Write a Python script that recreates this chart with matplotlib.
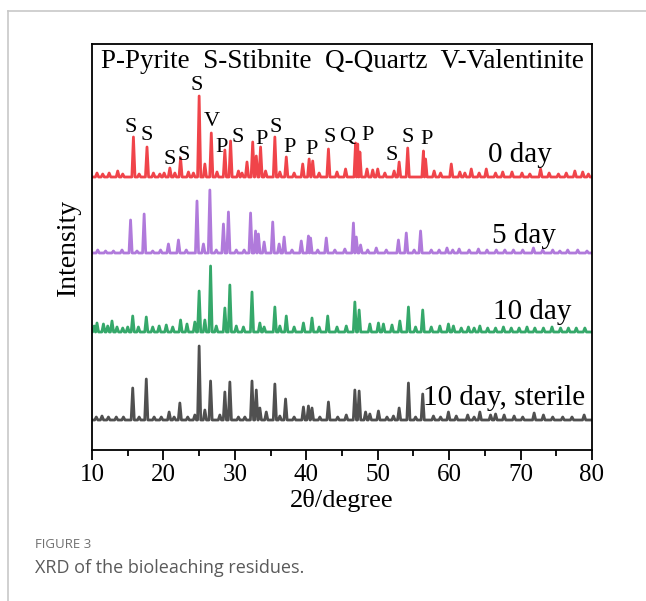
import numpy as np
import matplotlib
matplotlib.use("Agg")
from matplotlib import pyplot as plt

# XRD patterns: peak positions (2theta) and heights above each baseline
pos_0 = [10.7, 11.5, 12.4, 13.6, 14.3, 15.8, 16.6, 17.7, 18.6, 19.5, 20.1, 20.9, 21.6, 22.4, 23.5, 24.2,
         25.0, 25.8, 26.7, 27.5, 28.6, 29.4, 30.5, 31.0, 31.7, 32.5, 33.0, 33.6, 34.3, 35.6, 36.3, 37.2,
         38.3, 39.5, 40.4, 40.9, 41.8, 43.1, 44.3, 45.5, 46.9, 47.2, 47.5, 48.5, 49.3, 50.0, 51.0, 52.3,
         53.0, 54.2, 56.4, 56.7, 57.9, 58.8, 60.3, 61.5, 62.2, 63.1, 64.2, 65.2, 66.5, 67.5, 68.8, 70.2,
         71.3, 72.8, 74.0, 75.3, 76.4, 77.6, 78.7, 79.5]
h_0 = [4, 3, 4, 6, 3, 40, 3, 30, 4, 3, 4, 9, 4, 19, 5, 4,
       81, 13, 44, 5, 27, 36, 6, 4, 15, 35, 21, 30, 6, 40, 5, 20,
       4, 13, 18, 16, 4, 28, 5, 8, 34, 33, 25, 8, 7, 8, 4, 6,
       15, 29, 26, 18, 6, 4, 13, 5, 4, 8, 4, 8, 4, 5, 5, 4,
       3, 8, 4, 3, 4, 6, 5, 3]

pos_5 = [10.8, 11.9, 13.0, 14.2, 15.4, 16.3, 17.3, 18.5, 19.6, 20.7, 22.1, 23.2, 24.7, 25.6, 26.5, 27.4,
         28.4, 29.1, 30.2, 31.3, 32.2, 32.9, 33.3, 34.1, 35.3, 36.2, 36.9, 38.0, 39.3, 40.3, 40.6, 41.6,
         42.8, 44.0, 45.4, 46.6, 47.0, 47.6, 48.6, 49.8, 51.2, 52.9, 54.0, 55.1, 56.0, 57.5, 58.6, 59.7,
         60.5, 61.4, 62.8, 64.1, 65.3, 66.6, 67.8, 69.0, 70.3, 71.8, 73.1, 74.5, 75.5, 76.6, 78.0, 79.3]
h_5 = [3, 2, 2, 3, 33, 2, 39, 2, 3, 9, 13, 3, 52, 9, 63, 3,
       29, 41, 3, 3, 40, 22, 19, 11, 31, 9, 16, 3, 12, 17, 15, 3,
       15, 3, 4, 30, 16, 8, 3, 5, 3, 13, 20, 3, 22, 3, 3, 5,
       3, 4, 3, 4, 3, 3, 3, 3, 3, 5, 3, 3, 2, 3, 3, 2]

pos_10 = [10.3, 10.7, 11.6, 12.2, 12.8, 13.5, 14.3, 15.0, 15.7, 16.5, 17.6, 18.5, 19.4, 20.4, 21.3, 22.4,
          23.3, 24.4, 25.0, 25.8, 26.6, 27.4, 28.6, 29.3, 30.2, 31.2, 32.4, 33.5, 34.1, 35.6, 36.3, 37.2,
          38.3, 39.6, 40.8, 41.8, 43.0, 44.3, 45.6, 46.8, 47.4, 48.9, 50.1, 50.8, 52.0, 53.1, 54.3, 55.3,
          56.3, 57.5, 58.7, 59.9, 60.6, 61.7, 62.7, 63.5, 64.3, 65.4, 66.5, 67.6, 68.7, 69.8, 70.9, 72.0,
          73.2, 74.4, 75.6, 76.7, 77.8, 79.0]
h_10 = [6, 9, 8, 6, 11, 5, 4, 5, 16, 5, 15, 5, 6, 7, 5, 12,
        8, 10, 41, 12, 66, 6, 24, 47, 6, 5, 40, 9, 5, 25, 6, 16,
        5, 9, 14, 5, 16, 5, 6, 30, 22, 8, 9, 8, 7, 11, 25, 5,
        22, 5, 6, 8, 6, 4, 5, 4, 6, 4, 4, 5, 4, 4, 5, 4,
        4, 5, 4, 4, 4, 4]

pos_st = [10.6, 11.4, 12.3, 13.4, 14.4, 15.7, 16.6, 17.6, 18.7, 19.7, 20.8, 21.5, 22.3, 23.4, 24.4, 25.0,
          25.8, 26.6, 27.9, 28.6, 29.3, 30.5, 31.4, 32.4, 33.0, 33.5, 34.4, 35.6, 36.3, 37.1, 38.3, 39.6,
          40.3, 40.8, 41.9, 43.1, 44.4, 45.6, 46.8, 47.4, 48.3, 48.9, 50.1, 51.3, 52.2, 53.0, 54.3, 55.3,
          56.3, 57.8, 58.8, 59.9, 61.0, 62.6, 63.5, 64.3, 65.8, 66.5, 67.7, 69.1, 70.3, 71.9, 73.2, 74.5,
          75.9, 77.2, 78.9]
h_st = [3, 4, 3, 3, 3, 32, 3, 41, 3, 3, 8, 3, 17, 3, 5, 74,
        10, 39, 5, 28, 38, 3, 3, 39, 30, 12, 8, 36, 4, 21, 3, 13,
        14, 12, 3, 18, 3, 5, 30, 29, 8, 6, 9, 3, 4, 12, 37, 3,
        26, 4, 3, 8, 4, 5, 3, 8, 5, 6, 5, 4, 3, 7, 5, 3,
        3, 3, 5]

offsets = [273, 197, 118, 30]
colors = ['#F0444A', '#B07ADB', '#35A86A', '#505050']

# phase labels on the 0 day pattern
lab_txt = ['S', 'S', 'S', 'S', 'S', 'V', 'P', 'S', 'P', 'S', 'P', 'P', 'S', 'Q', 'P', 'S', 'S', 'P']
lab_x = [15.46, 17.70, 20.92, 22.88, 24.70, 26.80, 28.20, 30.44, 33.80, 35.76, 37.72, 40.80,
         43.32, 45.70, 48.64, 52.00, 54.24, 56.90]
lab_y = [322, 315, 290, 295, 364, 328, 303, 312, 310, 322, 303, 300, 312, 313, 315, 295, 313, 310]

names = ['0 day', '5 day', '10 day', '10 day, sterile']
name_x = [65.44, 66.0, 66.14, 56.3]
name_y = [295, 214, 138, 52]


def trace(pos, h):
    pos = np.array(pos)
    h = np.array(h, dtype=float)
    xs = [10.0]
    ys = [0.0]
    for i, p in enumerate(pos):
        gl = p - pos[i - 1] if i > 0 else 1.0
        gr = pos[i + 1] - p if i < len(pos) - 1 else 1.0
        wl = min(0.22, 0.45 * gl)
        wr = min(0.22, 0.45 * gr)
        xs += [p - wl, p, p + wr]
        ys += [0.0, h[i], 0.0]
    xs.append(80.0)
    ys.append(0.0)
    return np.array(xs), np.array(ys)


fig = plt.figure(figsize=(6.46, 6.01), dpi=100)
ax = fig.add_axes([92 / 646, 1 - 450 / 601, 500 / 646, 406 / 601])

serif = ['Liberation Serif', 'DejaVu Serif']
for (p, h), off, c in zip([(pos_0, h_0), (pos_5, h_5), (pos_10, h_10), (pos_st, h_st)], offsets, colors):
    x, y = trace(p, h)
    ax.plot(x, y + off, color=c, lw=2.0, solid_joinstyle='round')

for t, x, y in zip(lab_txt, lab_x, lab_y):
    ax.text(x, y, t, ha='center', va='center', fontsize=16, family=serif)

for t, x, y in zip(names, name_x, name_y):
    ax.text(x, y, t, ha='left', va='center', fontsize=21, family=serif)

ax.text(45.0, 388, 'P-Pyrite  S-Stibnite  Q-Quartz  V-Valentinite', ha='center', va='center',
        fontsize=19.5, family=serif)

ax.set_xlim(10, 80)
ax.set_ylim(0, 406)
ax.set_xticks(np.arange(10, 81, 10))
ax.set_xticks(np.arange(15, 80, 10), minor=True)
ax.set_yticks([])
ax.tick_params(axis='x', which='major', direction='out', length=7, width=1.3, labelsize=18, pad=3)
ax.tick_params(axis='x', which='minor', direction='out', length=4, width=1.3)
for lbl in ax.get_xticklabels():
    lbl.set_family(serif)
for s in ax.spines.values():
    s.set_linewidth(1.3)
ax.set_xlabel('2θ/degree', fontsize=19, family=serif, labelpad=2)
ax.set_ylabel('Intensity', fontsize=20, family=serif, labelpad=8)

# page frame and caption
fig.add_artist(plt.Line2D([8 / 646, 1], [1 - 11 / 601, 1 - 11 / 601], color='#c8c8c8', lw=1.2))
fig.add_artist(plt.Line2D([8 / 646, 8 / 646], [0, 1 - 11 / 601], color='#c8c8c8', lw=1.2))
fig.text(35 / 646, 1 - 545 / 601, 'FIGURE 3', fontsize=9.5, color='#707070', family='Open Sans',
         va='center', ha='left')
fig.text(35 / 646, 1 - 568 / 601, 'XRD of the bioleaching residues.', fontsize=13, color='#5a5a5a',
         family='Open Sans', va='center', ha='left')

plt.savefig('out.png', dpi=100)
